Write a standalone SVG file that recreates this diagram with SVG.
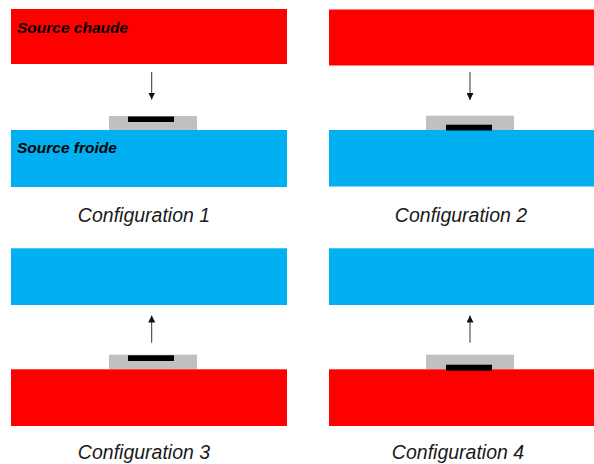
<svg xmlns="http://www.w3.org/2000/svg" width="594" height="464" viewBox="0 0 594 464">
<style>
.hot{fill:#FF0000}
.cold{fill:#00B0F0}
.pad{fill:#C0C0C0}
.bar{fill:#000000}
.lbl{font-family:"Liberation Sans",Arial,sans-serif;font-weight:bold;font-style:italic;font-size:15.5px;fill:#000}
.cap{font-family:"Liberation Sans",Arial,sans-serif;font-style:italic;font-size:19.5px;fill:#1a1a1a;text-anchor:middle}
.arr{stroke:#333;stroke-width:1;fill:none}
</style>
<defs>
<marker id="ah" viewBox="0 0 10 10" refX="10" refY="5" markerWidth="7" markerHeight="7" markerUnits="userSpaceOnUse" orient="auto">
<path d="M0,0 L10,5 L0,10 z" fill="#111"/>
</marker>
</defs>
<rect width="594" height="464" fill="#fff"/>
<g id="config1">
<rect id="hot1" class="hot" x="11" y="9" width="276" height="55"/>
<text class="lbl" x="17" y="33">Source chaude</text>
<rect id="pad1" class="pad" x="109" y="116" width="88" height="14"/>
<rect id="chip1" class="bar" x="128" y="116.5" width="46" height="5.5"/>
<rect id="cold1" class="cold" x="11" y="130" width="276" height="57"/>
<text class="lbl" x="17" y="152.5">Source froide</text>
<text class="cap" x="144" y="222">Configuration 1</text>
</g>
<g id="config2">
<rect id="hot2" class="hot" x="329" y="9.5" width="265" height="56"/>
<rect id="pad2" class="pad" x="426" y="115.7" width="88" height="14.3"/>
<rect id="cold2" class="cold" x="329" y="130" width="265" height="56.5"/>
<rect id="chip2" class="bar" x="446" y="124.7" width="46" height="5.8"/>
<text class="cap" x="461" y="222">Configuration 2</text>
</g>
<g id="config3">
<rect id="cold3" class="cold" x="11" y="248.3" width="276" height="56.7"/>
<rect id="pad3" class="pad" x="109" y="354.7" width="88" height="14.6"/>
<rect id="chip3" class="bar" x="128" y="355.3" width="46" height="5.7"/>
<rect id="hot3" class="hot" x="11" y="369.3" width="276" height="56.7"/>
<text class="cap" x="144" y="459">Configuration 3</text>
</g>
<g id="config4">
<rect id="cold4" class="cold" x="329" y="248.3" width="265" height="56.7"/>
<rect id="pad4" class="pad" x="426" y="354.7" width="88" height="14.6"/>
<rect id="hot4" class="hot" x="329" y="369.3" width="265" height="56.7"/>
<rect id="chip4" class="bar" x="446" y="364.7" width="46" height="6"/>
<text class="cap" x="458" y="459">Configuration 4</text>
</g>
<g id="connectors">
<line class="arr" x1="151.7" y1="72" x2="151.7" y2="99.5" marker-end="url(#ah)"/>
<line class="arr" x1="470" y1="72" x2="470" y2="100" marker-end="url(#ah)"/>
<line class="arr" x1="151.7" y1="342.7" x2="151.7" y2="315.5" marker-end="url(#ah)"/>
<line class="arr" x1="470" y1="342.7" x2="470" y2="315.5" marker-end="url(#ah)"/>
</g>
</svg>
